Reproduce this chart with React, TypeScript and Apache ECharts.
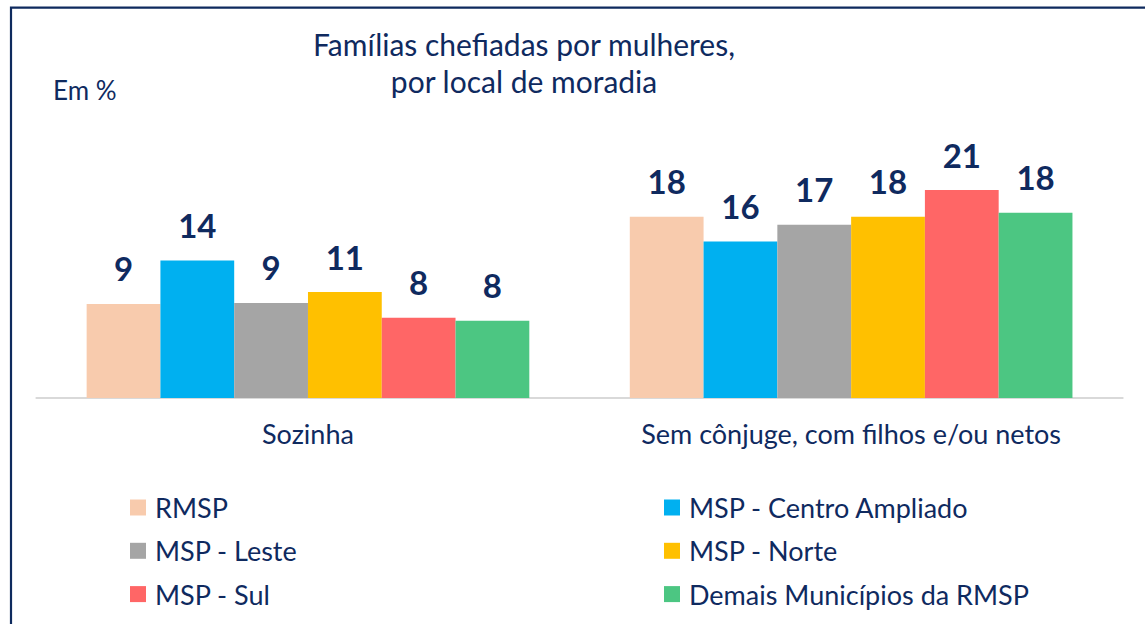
import React, { useEffect, useRef } from "react";
import * as echarts from "echarts";

const categories = ["Sozinha", "Sem cônjuge, com filhos e/ou netos"];
const seriesNames = [
  "RMSP",
  "MSP - Centro Ampliado",
  "MSP - Leste",
  "MSP - Norte",
  "MSP - Sul",
  "Demais Municípios da RMSP",
];
const rmsp = [9.5, 18.3];
const centroAmpliado = [13.9, 15.8];
const leste = [9.6, 17.5];
const norte = [10.7, 18.3];
const sul = [8.1, 21.0];
const demais = [7.8, 18.7];
const rmspLabels = [9, 18];
const centroLabels = [14, 16];
const lesteLabels = [9, 17];
const norteLabels = [11, 18];
const sulLabels = [8, 21];
const demaisLabels = [8, 18];

const colors = ["#F8CBAD", "#00B0F0", "#A5A5A5", "#FFC000", "#FF6666", "#4CC682"];
const navy = "#0F2A5F";
const font = "Lato";

export default function App() {
  const ref = useRef<HTMLDivElement>(null);
  useEffect(() => {
    if (!ref.current) return;
    const chart = echarts.init(ref.current, null, { renderer: "svg" });
    const values = [rmsp, centroAmpliado, leste, norte, sul, demais];
    const labels = [rmspLabels, centroLabels, lesteLabels, norteLabels, sulLabels, demaisLabels];
    const series = seriesNames.map((name, i) => ({
      name,
      type: "bar",
      data: values[i],
      barGap: "0%",
      barCategoryGap: "18.5%",
      itemStyle: { color: colors[i] },
      label: {
        show: true,
        position: "top",
        distance: 19,
        fontFamily: font,
        fontWeight: "bold",
        fontSize: 33,
        color: navy,
        formatter: (p: any) => String(labels[i][p.dataIndex]),
      },
    }));
    const legendPos = [
      [130, 0],
      [664, 0],
      [130, 1],
      [664, 1],
      [130, 2],
      [664, 2],
    ];
    const legends = seriesNames.map((name, i) => ({
      orient: "horizontal",
      icon: "rect",
      itemWidth: 16,
      itemHeight: 16,
      selectedMode: false,
      padding: 0,
      left: legendPos[i][0],
      top: 494 + legendPos[i][1] * 43.3,
      data: [name],
      textStyle: {
        fontFamily: font,
        fontSize: 27,
        color: navy,
        lineHeight: 26,
        padding: [0, 0, 0, 4],
      },
    }));
    chart.setOption({
      animation: false,
      backgroundColor: "#ffffff",
      title: {
        text: "Famílias chefiadas por mulheres,\npor local de moradia",
        left: 524,
        top: 25,
        textAlign: "center",
        padding: 0,
        textStyle: {
          fontFamily: font,
          fontWeight: "normal",
          fontSize: 30,
          lineHeight: 37,
          color: navy,
        },
      },
      graphic: [
        {
          type: "rect",
          shape: { x: 11, y: 7.7, width: 1200, height: 700 },
          style: { fill: "none", stroke: "#0E2A5E", lineWidth: 2.2 },
          silent: true,
        },
        {
          type: "text",
          left: 53,
          top: 77,
          style: { text: "Em %", fontFamily: font, fontSize: 26, fill: navy },
        },
      ],
      legend: legends,
      grid: { left: 36.4, right: 22.3, top: 150.5, bottom: 226, containLabel: false },
      xAxis: {
        type: "category",
        data: categories,
        axisLine: { show: true, lineStyle: { color: "#D9D9D9", width: 2 } },
        axisTick: { show: false },
        axisLabel: {
          interval: 0,
          fontFamily: font,
          fontSize: 27,
          color: navy,
          margin: 22,
        },
      },
      yAxis: {
        type: "value",
        min: 0,
        max: 25,
        show: false,
        splitLine: { show: false },
      },
      series,
    });
    return () => chart.dispose();
  }, []);
  return (
    <div
      ref={ref}
      style={{ position: "fixed", left: 0, top: 0, width: 1145, height: 624, background: "#fff" }}
    />
  );
}
